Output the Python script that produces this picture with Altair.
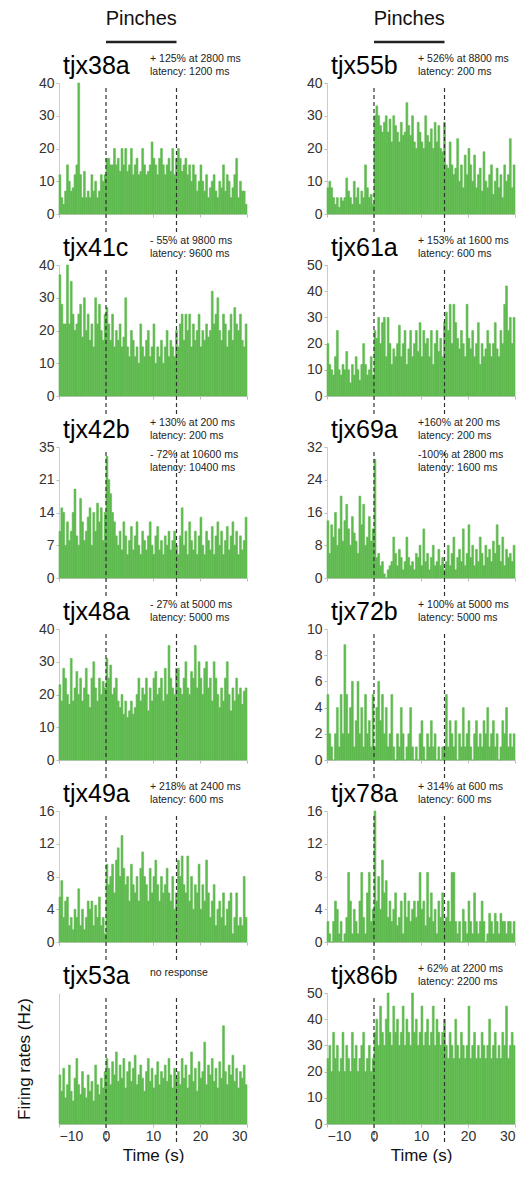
import altair as alt
import pandas as pd

FONT = "Liberation Sans"
GREEN = "#5fba4f"
W, H = 188, 131

# ---- data (firing rate per 0.4 s bin, -10 s .. 30 s) ----
tjx38a = [12,5,3,7,15,10,7,8,12,15,40,12,5,13,5,7,5,12,7,10,5,7,12,10,12,
          17,17,15,15,20,15,17,13,20,15,20,13,15,20,12,15,17,12,13,20,15,12,13,15,22,17,15,12,17,20,15,12,15,17,13,20,12,17,
          20,17,13,15,17,12,15,10,15,12,7,10,15,10,7,12,5,8,10,12,7,5,10,8,15,7,12,10,5,8,12,17,5,10,7,7,3]
tjx55b = [8,10,8,5,3,5,2,5,4,5,11,7,5,3,10,5,8,3,7,5,15,8,5,6,3,
          30,33,30,27,25,28,30,25,29,22,30,27,25,22,28,24,25,34,27,24,30,22,20,28,25,22,20,30,24,22,26,20,28,22,27,20,19,28,
          15,14,22,15,12,14,23,10,15,8,18,12,20,15,10,18,8,12,14,7,19,10,8,12,15,6,10,14,8,12,5,15,10,12,23,8,15]
tjx41c = [37,28,22,22,40,22,35,25,20,22,25,28,18,30,20,25,17,22,15,30,22,28,20,17,25,
          27,22,17,25,15,20,17,22,15,18,30,15,12,20,17,12,15,10,22,15,12,17,20,12,15,22,10,15,12,17,10,15,20,12,17,15,12,20,
          15,22,25,17,25,20,25,15,22,17,20,25,15,20,17,22,18,20,32,22,25,30,20,17,25,22,15,20,25,17,27,22,20,25,17,15,22]
tjx61a = [20,12,10,8,15,25,10,8,12,10,17,10,5,12,8,15,10,6,12,20,12,8,10,15,8,
          25,22,30,20,28,30,15,30,20,12,18,15,20,27,15,20,25,12,18,25,15,20,25,17,28,15,25,20,22,15,25,12,20,25,17,22,15,28,
          32,25,35,20,35,28,22,18,25,20,15,35,22,18,25,15,20,28,12,20,15,18,25,20,15,20,28,18,15,25,20,35,42,25,30,20,30]
tjx42b = [10,15,14,7,12,8,10,14,19,9,7,17,12,8,10,13,15,7,14,10,16,12,15,8,14,
          26,21,18,14,12,9,7,10,6,12,9,5,8,11,6,9,12,7,5,10,8,6,9,12,7,5,9,11,6,8,5,9,7,10,6,8,10,7,
          5,9,15,7,10,5,12,8,6,10,5,9,13,7,5,10,8,6,11,5,9,12,7,10,5,8,11,6,9,12,7,10,5,9,6,8,13]
tjx69a = [14,6,13,10,16,8,12,20,9,14,18,12,8,15,11,9,6,20,13,18,8,10,15,9,12,
          29,5,6,3,4,1,0,2,3,4,10,6,3,7,5,2,4,10,5,3,4,2,6,5,8,3,12,4,6,2,5,8,3,4,7,3,5,2,
          4,8,3,6,10,2,5,7,4,12,3,6,13,5,8,3,7,4,10,6,3,8,5,7,4,9,6,13,8,4,10,3,7,5,6,4,8]
tjx48a = [23,18,28,25,20,17,31,18,22,27,20,25,18,22,28,20,16,25,30,22,18,25,20,24,22,
          31,25,29,20,22,25,18,16,20,14,18,13,15,18,14,16,20,25,18,22,20,25,15,22,18,25,27,20,22,25,18,28,20,35,25,22,20,28,
          28,22,20,25,30,22,20,27,25,35,22,30,25,20,28,30,22,25,18,30,25,20,16,22,18,25,30,20,15,22,18,25,20,22,17,21,22]
tjx72b = [5,2,1,0,2,4,1,5,2,8.8,5,2,4,6,1,3,6,2,4,1,5,2,3,1,5,
          1,4,6,3,5,2,4,1,2,5,1,0,2,1,4,2,0,1,2,4,1,0,1,0,2,3,1,0,2,1,3,1,2,0,1,0,1,1,
          5,1,3,2,1,3,0,2,1,4,1,2,3,1,0,2,3,1,2,1,3,2,4,1,2,3,1,2,0,1,3,2,4,1,2,1,2]
tjx49a = [5.5,7.5,3,5,5.5,2,3,1.5,4,3,6.5,2,4,1.5,3,5,4,5,2,4.5,3,5.5,2,3,1,
          9.5,7,8,9.5,6,10,11.5,8,13,9,7,8,5,9.5,7,6,8,5,9,11,8,7,5,9,6,8,10,7,5,8,6,7,9,6,5,8,4,6,
          10,8,10.5,7,6,10.5,5,8,4,7,6,9.5,4,7,5,10,6,3,5,7,2,4,5,3,6,2,4,5,6,1,3,6,2,3,2,8,3]
tjx78a = [2.5,1,0,2.5,5,4,1,2.5,0,1,3,8.5,5,1,4,2.5,1,5,8.5,3,1,6,8.5,2.5,4,
          16,5,8,4,10,6,7.5,3,5,2.5,4,6,2,3,5,1,6,3,5,2.5,4,5,3,5,8.5,4,5,2,8.5,3,6,2.5,4,1,5,3,6,2.5,
          3,5,2.5,8.5,8.5,2.5,1,2.5,0,4,2.5,1,5,2.5,1,6,2.5,1,2.5,5,2.5,0,1,3.5,2.5,1,3.5,2.5,1,3.5,2.5,2.5,1,2.5,2.5,1,2.5]
tjx53a = [15,10,17,8,12,18,10,7,14,20,12,9,16,11,8,15,10,13,7,18,12,9,14,11,16,
          20,17,12,19,15,22,13,18,14,20,11,16,19,13,17,21,12,15,18,14,10,16,20,13,17,11,15,19,12,16,14,18,13,20,15,11,17,14,
          16,12,20,14,18,11,15,22,13,17,10,19,14,16,25,12,18,15,20,13,17,11,19,14,30,16,12,18,15,21,13,17,11,16,14,18,12]
tjx86b = [25,30,20,35,25,30,20,25,35,20,30,25,20,35,25,30,20,25,30,35,20,25,30,20,25,
          35,40,30,45,35,30,40,50,35,30,45,35,40,30,35,45,30,40,35,30,50,35,40,30,35,45,30,35,40,30,35,45,30,40,35,30,35,40,
          30,25,35,30,25,40,30,25,35,30,25,30,45,25,30,35,25,30,25,35,30,25,30,40,25,30,35,25,30,25,35,30,45,25,30,35,30]

panels = [
    ("tjx38a", tjx38a, 40, [0,10,20,30,40], ["+ 125% at 2800 ms", "latency: 1200 ms"], []),
    ("tjx55b", tjx55b, 40, [0,10,20,30,40], ["+ 526% at 8800 ms", "latency: 200 ms"], []),
    ("tjx41c", tjx41c, 40, [0,10,20,30,40], ["- 55% at 9800 ms", "latency: 9600 ms"], []),
    ("tjx61a", tjx61a, 50, [0,10,20,30,40,50], ["+ 153% at 1600 ms", "latency: 600 ms"], []),
    ("tjx42b", tjx42b, 28, [0,7,14,21,28], ["+ 130% at 200 ms", "latency: 200 ms"], ["- 72% at 10600 ms", "latency: 10400 ms"]),
    ("tjx69a", tjx69a, 32, [0,8,16,24,32], ["+160% at 200 ms", "latency: 200 ms"], ["-100% at 2800 ms", "latency: 1600 ms"]),
    ("tjx48a", tjx48a, 40, [0,10,20,30,40], ["- 27% at 5000 ms", "latency: 5000 ms"], []),
    ("tjx72b", tjx72b, 10, [0,2,4,6,8,10], ["+ 100% at 5000 ms", "latency: 5000 ms"], []),
    ("tjx49a", tjx49a, 16, [0,4,8,12,16], ["+ 218% at 2400 ms", "latency: 600 ms"], []),
    ("tjx78a", tjx78a, 16, [0,4,8,12,16], ["+ 314% at 600 ms", "latency: 600 ms"], []),
    ("tjx53a", tjx53a, 40, [0,10,20,30,40], ["no response"], []),
    ("tjx86b", tjx86b, 50, [0,10,20,30,40,50], ["+ 62% at 2200 ms", "latency: 2200 ms"], []),
]


def txt(s, x, y, size, color="#222", align="left", baseline="middle"):
    return alt.Chart(pd.DataFrame({"s": [s]})).mark_text(
        align=align, baseline=baseline, fontSize=size, font=FONT, color=color
    ).encode(x=alt.value(x), y=alt.value(y), text="s:N")


def panel(idx):
    name, vals, ymax, yticks, notes, inner = panels[idx]
    row, col = divmod(idx, 2)
    bottom = row == 5
    n = len(vals)
    step = 40.0 / n
    df = pd.DataFrame({
        "t0": [-10 + i * step for i in range(n)],
        "t1": [-10 + (i + 1) * step for i in range(n)],
        "rate": vals,
        "base": [0] * n,
    })
    xax = dict(values=list(range(-10, 31, 5)), labels=bottom, tickSize=3,
               tickColor="#bbbbbb", domainColor="#cccccc", grid=False,
               labelFont=FONT, labelFontSize=14, labelColor="#333333",
               titleFont=FONT, titleFontSize=17, titleFontWeight="normal", titleColor="#111111")
    if bottom:
        xax["labelExpr"] = "datum.value % 10 === 0 ? datum.label : ''"
        xax["title"] = "Time (s)"
    else:
        xax["title"] = None
    yax = dict(values=yticks, tickSize=3, tickColor="#bbbbbb", domainColor="#cccccc",
               grid=False, labelFont=FONT, labelFontSize=14, labelColor="#333333",
               labelPadding=2,
               titleFont=FONT, titleFontSize=17, titleFontWeight="normal", titleColor="#111111")
    if name == "tjx42b":
        yax["labelExpr"] = "datum.value === 28 ? '35' : datum.label"
    if name == "tjx53a":
        yax["labels"] = False
        yax["ticks"] = False
        yax["titlePadding"] = 26
    if bottom and col == 0:
        yax["title"] = "Firing rates (Hz)"
    else:
        yax["title"] = None

    bars = alt.Chart(df).mark_rect(color=GREEN, stroke=GREEN, strokeWidth=0.6).encode(
        x=alt.X("t0:Q", scale=alt.Scale(domain=[-10, 30], nice=False, zero=False), axis=alt.Axis(**xax)),
        x2="t1:Q",
        y=alt.Y("rate:Q", scale=alt.Scale(domain=[0, ymax], nice=False), axis=alt.Axis(**yax)),
        y2="base:Q",
    )
    rules = alt.Chart(pd.DataFrame({"t0": [0, 15]})).mark_rule(
        strokeDash=[4, 3], color="#333333", strokeWidth=1.2
    ).encode(x="t0:Q", y=alt.value(5), y2=alt.value(H + 18))
    layers = [bars, rules, txt(name, 4, -9, 25, color="#000000", baseline="alphabetic")]
    if len(notes) == 1:
        layers.append(txt(notes[0], 91, -20, 10.5))
    else:
        layers.append(txt(notes[0], 91, -24, 10.5))
        layers.append(txt(notes[1], 91, -11, 10.5))
    if inner:
        layers.append(txt(inner[0], 91, 8, 10.5))
        layers.append(txt(inner[1], 91, 21, 10.5))
    if row == 0:
        layers.append(alt.Chart(pd.DataFrame({"t0": [7.5], "s": ["Pinches"]})).mark_text(
            fontSize=20, font=FONT, color="#111111", baseline="middle"
        ).encode(x="t0:Q", y=alt.value(-64), text="s:N"))
        layers.append(alt.Chart(pd.DataFrame({"t0": [0], "t1": [15]})).mark_rule(
            strokeWidth=2.5, color="#222222"
        ).encode(x="t0:Q", x2="t1:Q", y=alt.value(-41)))
    return alt.layer(*layers).properties(width=W, height=H)


chart = alt.concat(*[panel(i) for i in range(12)], columns=2,
                   spacing={"row": 51, "column": 80}, bounds="flush").configure_view(stroke=None).properties(
    padding={"left": 6, "top": 1, "right": 0, "bottom": 0}
)

chart.save("out.html", embed_options={"renderer": "svg", "actions": False})
